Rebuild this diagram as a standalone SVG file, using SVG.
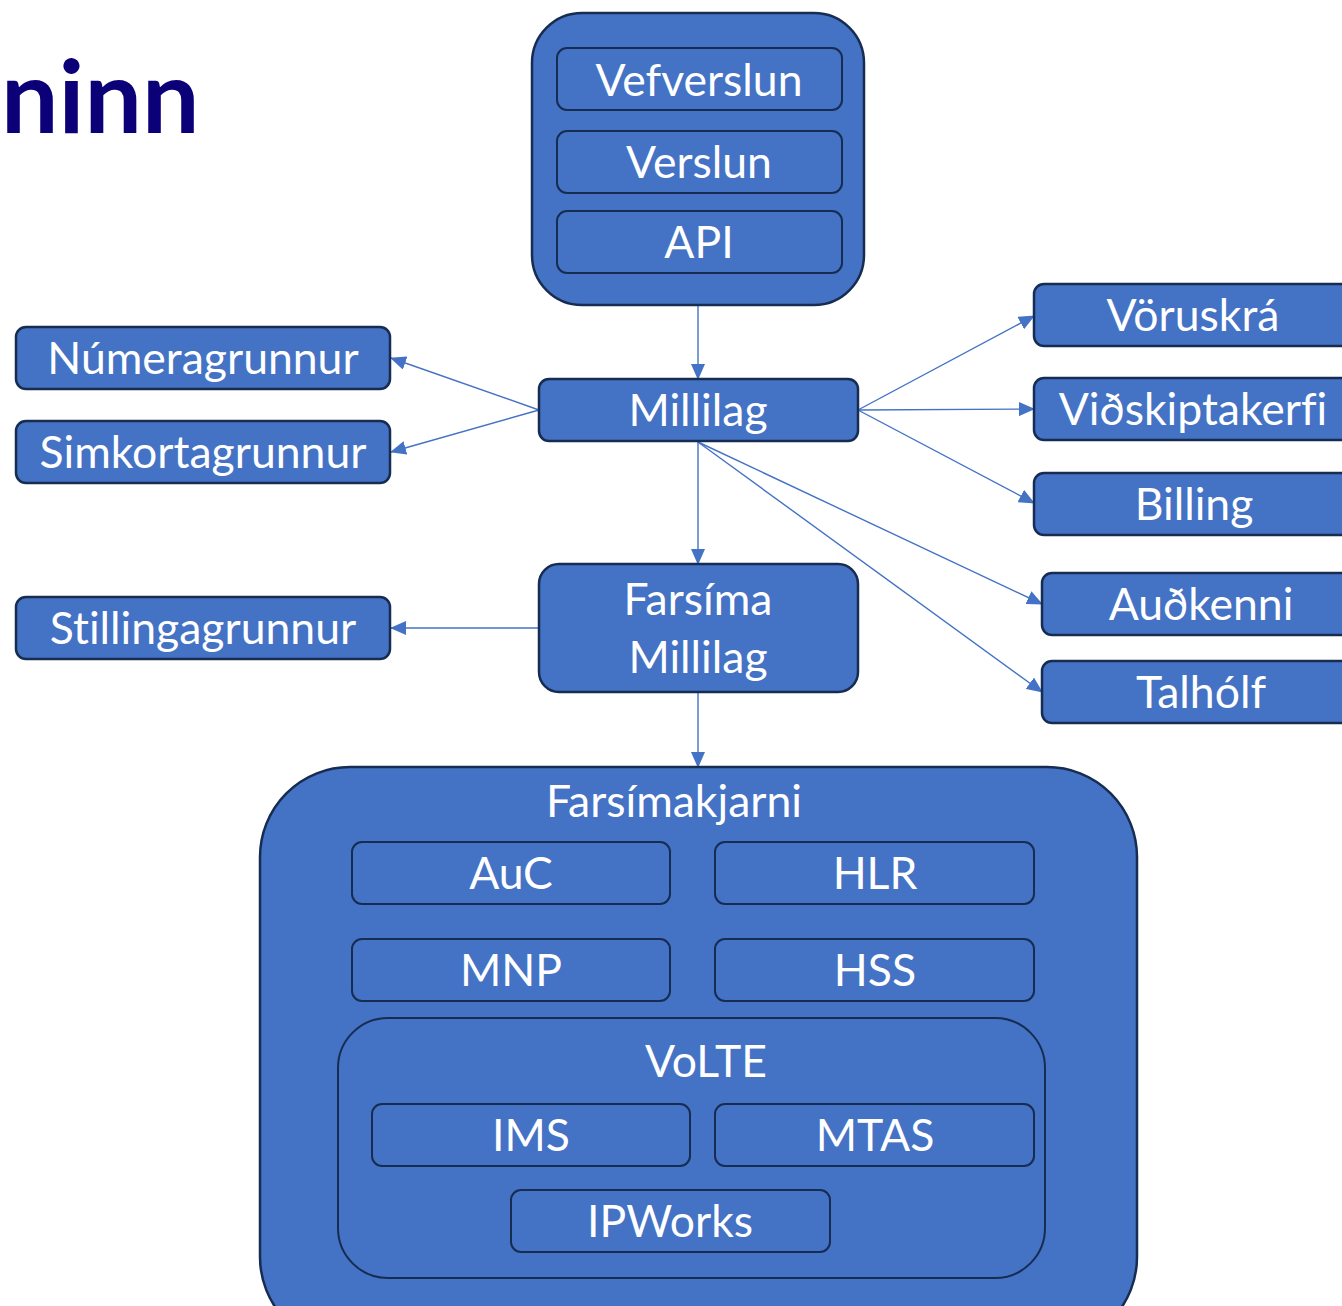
<svg xmlns="http://www.w3.org/2000/svg" width="1342" height="1306" viewBox="0 0 1342 1306">
<defs>
<style>
.box{fill:#4472c4;stroke:#172c51;stroke-width:2.5}
.inner{fill:#4472c4;stroke:#172c51;stroke-width:2}
.t{font-family:Lato,"Liberation Sans",sans-serif;font-size:44.5px;fill:#ffffff;text-anchor:middle;font-variant-ligatures:none}
.c{stroke:#4472c4;stroke-width:1.4;fill:none;marker-end:url(#ah)}
</style>
<marker id="ah" markerUnits="userSpaceOnUse" markerWidth="16" markerHeight="14" refX="15" refY="7" orient="auto">
<path d="M0,0 L16,7 L0,14 Z" fill="#4472c4"/>
</marker>
</defs>
<rect width="1342" height="1306" fill="#ffffff"/>
<text x="1" y="133" font-family="Lato,'Liberation Sans',sans-serif" font-weight="bold" font-size="102" fill="#0b0078">ninn</text>

<g id="connectors">
<line class="c" x1="698" y1="306" x2="698" y2="379"/>
<line class="c" x1="539" y1="410" x2="391" y2="358"/>
<line class="c" x1="539" y1="410" x2="391" y2="452"/>
<line class="c" x1="858" y1="410" x2="1034" y2="316"/>
<line class="c" x1="858" y1="410" x2="1034" y2="409"/>
<line class="c" x1="858" y1="410" x2="1034" y2="503"/>
<line class="c" x1="698" y1="442" x2="698" y2="564"/>
<line class="c" x1="698" y1="442" x2="1042" y2="604"/>
<line class="c" x1="698" y1="442" x2="1042" y2="692"/>
<line class="c" x1="539" y1="628" x2="391" y2="628"/>
<line class="c" x1="698" y1="693" x2="698" y2="767"/>
</g>

<g id="frontend">
<rect class="box" x="532" y="13" width="332" height="292" rx="50"/>
<g id="vefverslun"><rect class="inner" x="557" y="48" width="285" height="62" rx="10"/><text class="t" x="699" y="96">Vefverslun</text></g>
<g id="verslun"><rect class="inner" x="557" y="131" width="285" height="62" rx="10"/><text class="t" x="699" y="178">Verslun</text></g>
<g id="api"><rect class="inner" x="557" y="211" width="285" height="62" rx="10"/><text class="t" x="699" y="258">API</text></g>
</g>

<g id="millilag"><rect class="box" x="539" y="379" width="319" height="62" rx="10"/><text class="t" x="698" y="426">Millilag</text></g>
<g id="numeragrunnur"><rect class="box" x="16" y="327" width="374" height="62" rx="10"/><text class="t" x="203" y="374">Númeragrunnur</text></g>
<g id="simkortagrunnur"><rect class="box" x="16" y="421" width="374" height="62" rx="10"/><text class="t" x="203" y="468">Simkortagrunnur</text></g>
<g id="stillingagrunnur"><rect class="box" x="16" y="597" width="374" height="62" rx="10"/><text class="t" x="203" y="644">Stillingagrunnur</text></g>
<g id="farsima-millilag"><rect class="box" x="539" y="564" width="319" height="128" rx="20"/><text class="t" x="698" y="615">Farsíma</text><text class="t" x="698" y="673">Millilag</text></g>

<g id="voruskra"><rect class="box" x="1034" y="284" width="318" height="62" rx="10"/><text class="t" x="1193" y="331">Vöruskrá</text></g>
<g id="vidskiptakerfi"><rect class="box" x="1034" y="378" width="318" height="62" rx="10"/><text class="t" x="1193" y="425">Viðskiptakerfi</text></g>
<g id="billing"><rect class="box" x="1034" y="473" width="318" height="62" rx="10"/><text class="t" x="1194" y="520">Billing</text></g>
<g id="audkenni"><rect class="box" x="1042" y="573" width="318" height="62" rx="10"/><text class="t" x="1201" y="620">Auðkenni</text></g>
<g id="talholf"><rect class="box" x="1042" y="661" width="318" height="62" rx="10"/><text class="t" x="1201" y="708">Talhólf</text></g>

<g id="farsimakjarni">
<rect class="box" x="260" y="767" width="877" height="580" rx="90"/>
<text class="t" x="674" y="817">Farsímakjarni</text>
<g id="auc"><rect class="inner" x="352" y="842" width="318" height="62" rx="10"/><text class="t" x="511" y="889">AuC</text></g>
<g id="hlr"><rect class="inner" x="715" y="842" width="319" height="62" rx="10"/><text class="t" x="875" y="889">HLR</text></g>
<g id="mnp"><rect class="inner" x="352" y="939" width="318" height="62" rx="10"/><text class="t" x="511" y="986">MNP</text></g>
<g id="hss"><rect class="inner" x="715" y="939" width="319" height="62" rx="10"/><text class="t" x="875" y="986">HSS</text></g>
<g id="volte">
<rect class="inner" x="338" y="1018" width="707" height="260" rx="50"/>
<text class="t" x="706" y="1077">VoLTE</text>
<g id="ims"><rect class="inner" x="372" y="1104" width="318" height="62" rx="10"/><text class="t" x="531" y="1151">IMS</text></g>
<g id="mtas"><rect class="inner" x="715" y="1104" width="319" height="62" rx="10"/><text class="t" x="875" y="1151">MTAS</text></g>
<g id="ipworks"><rect class="inner" x="511" y="1190" width="319" height="62" rx="10"/><text class="t" x="670" y="1237">IPWorks</text></g>
</g>
</g>
</svg>
